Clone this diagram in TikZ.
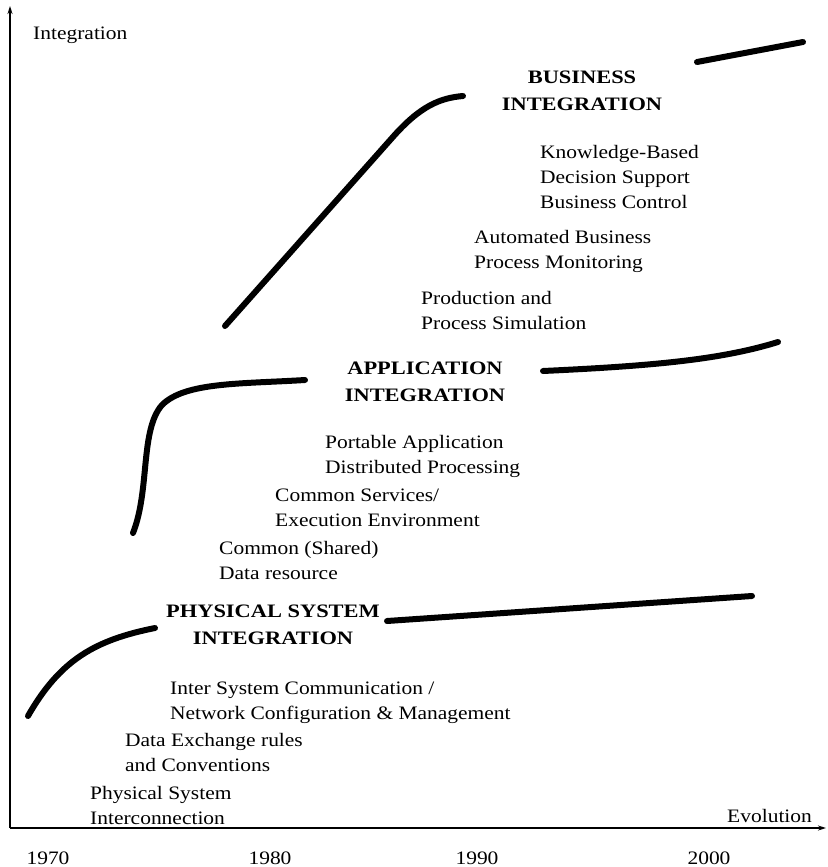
\documentclass[tikz,border=0pt]{standalone}
\usepackage{fontspec}
\setmainfont{Liberation Serif}[FakeStretch=1.13]
\newfontfamily\headfont{Liberation Serif}[UprightFont=* Bold,FakeStretch=1.18]
\usetikzlibrary{arrows.meta}
\begin{document}
\begin{tikzpicture}[x=1pt,y=-1pt,
  axis/.style={line width=1.6pt},
  trend/.style={line width=6pt,line cap=round},
  lbl/.style={font=\fontsize{19}{25}\selectfont,inner sep=0pt,anchor=base west,align=left},
  head/.style={font=\fontsize{19}{27}\headfont,inner sep=0pt,anchor=base,align=center},
  year/.style={font=\fontsize{19}{25}\selectfont,inner sep=0pt,anchor=base}]
\useasboundingbox (0,0) rectangle (827,867);

% axes
\coordinate (o) at (10,828);
\coordinate (ytop) at (10,6);
\coordinate (xend) at (826,828);
\draw[axis,-{Stealth[length=8pt,width=5pt]}] (o) -- (ytop);
\draw[axis,-{Stealth[length=8pt,width=5pt]}] (o) -- (xend);
\node[lbl] (ylab) at (33,40) {Integration};
\node[lbl] (xlab) at (727,822) {Evolution};

% years
\node[year] (y70) at (48,864) {1970};
\node[year] (y80) at (270,864) {1980};
\node[year] (y90) at (477,864) {1990};
\node[year] (y00) at (709,864) {2000};

% growth curves
\draw[trend] (28,716) .. controls (60,660) and (95,640) .. (155,628);
\draw[trend] (387,621) -- (752,596);
\draw[trend] (133,533) .. controls (150,490) and (140,430) .. (162,405)
                       .. controls (185,382) and (240,384) .. (305,380);
\draw[trend] (543,371) .. controls (650,366) and (720,360) .. (778,342);
\draw[trend] (225,326) -- (392,138) .. controls (420,106) and (440,98) .. (463,96);
\draw[trend] (697,62) -- (803,42);

% level headings (anchored at the baseline of the last line)
\node[head] (biz) at (582,110) {BUSINESS\\INTEGRATION};
\node[head] (app) at (425,401) {APPLICATION\\INTEGRATION};
\node[head] (phys) at (273,644) {PHYSICAL SYSTEM\\INTEGRATION};

% stages (anchored at the baseline of the last line)
\node[lbl] (kb) at (540,208) {Knowledge-Based\\Decision Support\\Business Control};
\node[lbl] (abp) at (474,268) {Automated Business\\Process Monitoring};
\node[lbl] (pps) at (421,329) {Production and\\Process Simulation};
\node[lbl] (pa) at (325,473) {Portable Application\\Distributed Processing};
\node[lbl] (cs) at (275,526) {Common Services/\\Execution Environment};
\node[lbl] (cdr) at (219,579) {Common (Shared)\\Data resource};
\node[lbl] (isc) at (170,719) {Inter System Communication /\\Network Configuration \& Management};
\node[lbl] (der) at (125,771) {Data Exchange rules\\and Conventions};
\node[lbl] (psi) at (90,824) {Physical System\\Interconnection};
\end{tikzpicture}
\end{document}
